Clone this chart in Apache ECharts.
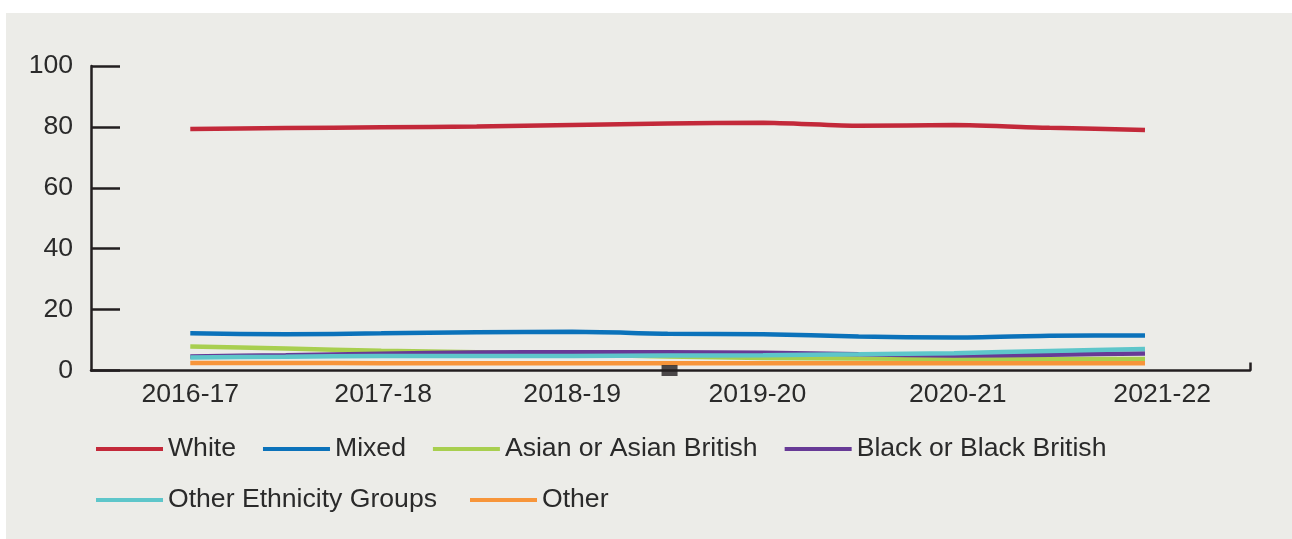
<!DOCTYPE html>
<html>
<head>
<meta charset="utf-8">
<script src="https://cdn.jsdelivr.net/npm/echarts@6/dist/echarts.min.js"></script>
<style>
  html, body { margin: 0; padding: 0; background: #fff; }
  #chart { position: absolute; left: 6px; top: 13px; width: 1286px; height: 526px; background: #ECECE8; }
</style>
</head>
<body>
<div id="chart"></div>
<script>
// year labels and where they sit on the x scale
var xLabels = ['2016-17', '2017-18', '2018-19', '2019-20', '2020-21', '2021-22'];
var xLabelPos = [0, 1.01, 2, 2.97, 4.02, 5.09];

// half-year sample points
var xPoints = [0, 0.5, 1, 1.5, 2, 2.5, 3, 3.5, 4, 4.5, 5];

var white = [79.3, 79.6, 79.9, 80.1, 80.6, 81.1, 81.4, 80.4, 80.6, 79.7, 79.0];
var mixed = [12.2, 11.9, 12.2, 12.6, 12.7, 12.1, 11.9, 11.2, 10.8, 11.4, 11.5];
var asian = [7.9, 7.2, 6.5, 6.0, 5.3, 4.6, 4.1, 3.9, 3.8, 3.8, 3.8];
var black = [4.6, 5.0, 5.5, 5.9, 6.0, 6.0, 5.8, 5.3, 4.9, 5.2, 5.6];
var otherEthnicity = [4.3, 4.5, 4.8, 4.8, 4.8, 4.9, 5.0, 5.3, 5.7, 6.4, 7.1];
var other = [2.5, 2.5, 2.4, 2.4, 2.4, 2.4, 2.4, 2.4, 2.4, 2.4, 2.4];

// the little black block sitting on the x axis
var axisBlock = [[2.51, 0]];

var names = ['White', 'Mixed', 'Asian or Asian British', 'Black or Black British', 'Other Ethnicity Groups', 'Other'];
var colors = ['#C3293A', '#0B72BA', '#A8CF4F', '#673A96', '#5EC6CA', '#F7953A'];
var values = [white, mixed, asian, black, otherEthnicity, other];

var textColor = '#2a2a2a';
var font = 'Liberation Sans, Arial, Helvetica, sans-serif';
var fs = 26.6;

function toPairs(vals) {
    return xPoints.map(function (x, i) { return [x, vals[i]]; });
}

var series = names.map(function (name, i) {
    return {
        name: name,
        type: 'line',
        data: toPairs(values[i]),
        symbol: 'none',
        smooth: 0.2,
        clip: false,
        lineStyle: { color: colors[i], width: 4.5 },
        itemStyle: { color: colors[i] }
    };
});

series.push({
    name: 'block',
    type: 'scatter',
    data: axisBlock,
    symbol: 'rect',
    symbolSize: [16, 11],
    clip: false,
    itemStyle: { color: '#231F20' },
    z: 5
});

var legendText = { color: textColor, fontSize: fs, fontFamily: font, lineHeight: 30 };

var option = {
    animation: false,
    grid: { left: 85, right: 42, top: 53, bottom: 168.5, containLabel: false },
    legend: [{
        data: names.slice(0, 4),
        left: 85,
        top: 416,
        icon: 'rect',
        itemWidth: 67,
        itemHeight: 4,
        itemGap: 27,
        textStyle: legendText
    }, {
        data: names.slice(4),
        left: 85,
        top: 467,
        icon: 'rect',
        itemWidth: 67,
        itemHeight: 4,
        itemGap: 33,
        textStyle: legendText
    }],
    xAxis: {
        type: 'value',
        min: -0.52,
        max: 5.55,
        splitLine: { show: false },
        axisLine: { show: true, onZero: false, lineStyle: { color: '#231F20', width: 2.5 } },
        axisTick: {
            show: true,
            inside: true,
            length: 8,
            customValues: [5.55],
            lineStyle: { color: '#231F20', width: 2.5 }
        },
        axisLabel: {
            customValues: xLabelPos,
            margin: 11,
            color: textColor,
            fontSize: fs,
            fontFamily: font,
            formatter: function (v) {
                for (var i = 0; i < xLabelPos.length; i++) {
                    if (Math.abs(xLabelPos[i] - v) < 1e-6) return xLabels[i];
                }
                return '';
            }
        }
    },
    yAxis: {
        type: 'value',
        min: 0,
        max: 100,
        interval: 20,
        splitLine: { show: false },
        axisLine: { show: true, onZero: false, lineStyle: { color: '#231F20', width: 2.5 } },
        axisTick: { show: true, inside: true, length: 29, lineStyle: { color: '#231F20', width: 2.5 } },
        axisLabel: { margin: 18, color: textColor, fontSize: fs, fontFamily: font, padding: [5, 0, 0, 0] }
    },
    series: series
};

var myChart = echarts.init(document.getElementById('chart'));
myChart.setOption(option);
</script>
</body>
</html>
